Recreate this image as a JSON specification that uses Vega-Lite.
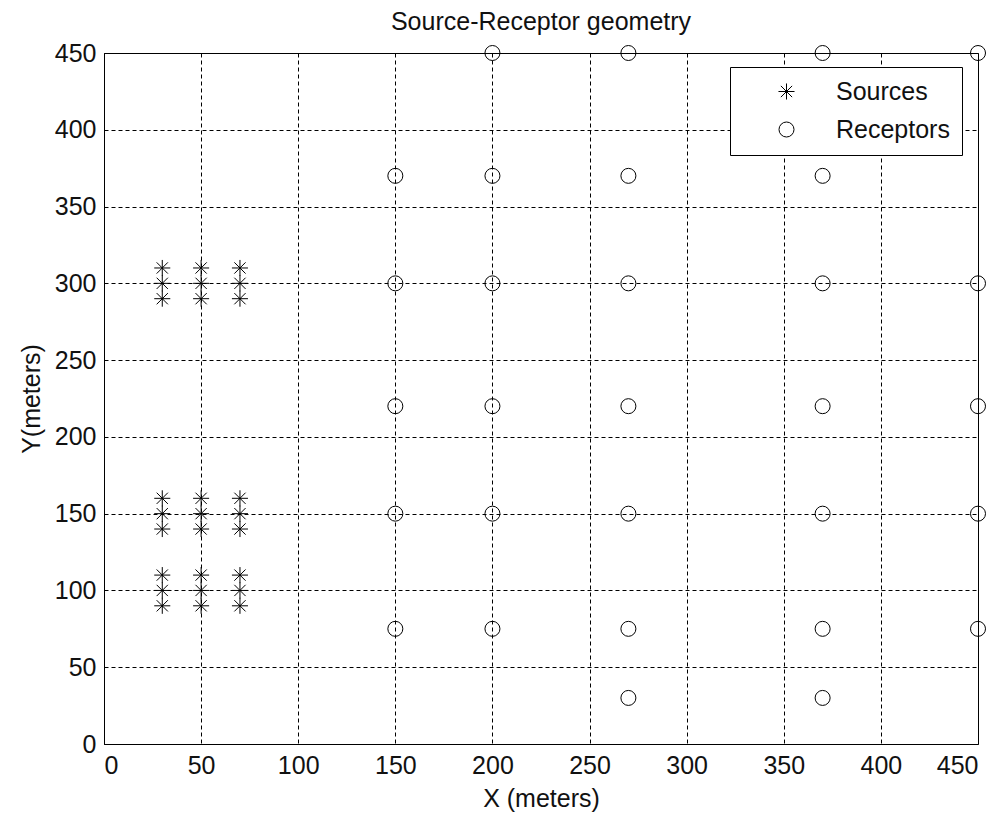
{
  "$schema": "https://vega.github.io/schema/vega-lite/v6.json",
  "width": 874,
  "height": 691,
  "autosize": {"type": "none"},
  "padding": {"left": 104, "top": 53, "right": 23, "bottom": 72},
  "background": "white",
  "title": {"text": "Source-Receptor geometry", "font": "Liberation Sans", "fontSize": 25, "fontWeight": "normal", "color": "#111", "anchor": "middle", "offset": 6},
  "config": {
    "view": {"stroke": "black", "strokeWidth": 1},
    "axis": {
      "domainColor": "black", "domainWidth": 1,
      "gridColor": "black", "gridOpacity": 1, "gridWidth": 1, "gridDash": [4, 3],
      "ticks": false,
      "labelFont": "Liberation Sans", "labelFontSize": 25, "labelColor": "#111",
      "titleFont": "Liberation Sans", "titleFontSize": 25, "titleFontWeight": "normal", "titleColor": "#111"
    }
  },
  "data": {"values": [
    {"x": 30, "y": 90, "type": "Sources"}, {"x": 30, "y": 100, "type": "Sources"}, {"x": 30, "y": 110, "type": "Sources"},
    {"x": 50, "y": 90, "type": "Sources"}, {"x": 50, "y": 100, "type": "Sources"}, {"x": 50, "y": 110, "type": "Sources"},
    {"x": 70, "y": 90, "type": "Sources"}, {"x": 70, "y": 100, "type": "Sources"}, {"x": 70, "y": 110, "type": "Sources"},
    {"x": 30, "y": 140, "type": "Sources"}, {"x": 30, "y": 150, "type": "Sources"}, {"x": 30, "y": 160, "type": "Sources"},
    {"x": 50, "y": 140, "type": "Sources"}, {"x": 50, "y": 150, "type": "Sources"}, {"x": 50, "y": 160, "type": "Sources"},
    {"x": 70, "y": 140, "type": "Sources"}, {"x": 70, "y": 150, "type": "Sources"}, {"x": 70, "y": 160, "type": "Sources"},
    {"x": 30, "y": 290, "type": "Sources"}, {"x": 30, "y": 300, "type": "Sources"}, {"x": 30, "y": 310, "type": "Sources"},
    {"x": 50, "y": 290, "type": "Sources"}, {"x": 50, "y": 300, "type": "Sources"}, {"x": 50, "y": 310, "type": "Sources"},
    {"x": 70, "y": 290, "type": "Sources"}, {"x": 70, "y": 300, "type": "Sources"}, {"x": 70, "y": 310, "type": "Sources"},
    {"x": 150, "y": 75, "type": "Receptors"}, {"x": 150, "y": 150, "type": "Receptors"}, {"x": 150, "y": 220, "type": "Receptors"}, {"x": 150, "y": 300, "type": "Receptors"}, {"x": 150, "y": 370, "type": "Receptors"},
    {"x": 200, "y": 75, "type": "Receptors"}, {"x": 200, "y": 150, "type": "Receptors"}, {"x": 200, "y": 220, "type": "Receptors"}, {"x": 200, "y": 300, "type": "Receptors"}, {"x": 200, "y": 370, "type": "Receptors"}, {"x": 200, "y": 450, "type": "Receptors"},
    {"x": 270, "y": 30, "type": "Receptors"}, {"x": 270, "y": 75, "type": "Receptors"}, {"x": 270, "y": 150, "type": "Receptors"}, {"x": 270, "y": 220, "type": "Receptors"}, {"x": 270, "y": 300, "type": "Receptors"}, {"x": 270, "y": 370, "type": "Receptors"}, {"x": 270, "y": 450, "type": "Receptors"},
    {"x": 370, "y": 30, "type": "Receptors"}, {"x": 370, "y": 75, "type": "Receptors"}, {"x": 370, "y": 150, "type": "Receptors"}, {"x": 370, "y": 220, "type": "Receptors"}, {"x": 370, "y": 300, "type": "Receptors"}, {"x": 370, "y": 370, "type": "Receptors"}, {"x": 370, "y": 450, "type": "Receptors"},
    {"x": 450, "y": 75, "type": "Receptors"}, {"x": 450, "y": 150, "type": "Receptors"}, {"x": 450, "y": 220, "type": "Receptors"}, {"x": 450, "y": 300, "type": "Receptors"}, {"x": 450, "y": 450, "type": "Receptors"}
  ]},
  "mark": {"type": "point", "filled": false, "color": "black", "strokeWidth": 1, "opacity": 1, "size": 225, "clip": false},
  "encoding": {
    "x": {"field": "x", "type": "quantitative", "scale": {"domain": [0, 450], "nice": false},
      "axis": {"title": "X (meters)", "values": [0, 50, 100, 150, 200, 250, 300, 350, 400, 450], "labelPadding": 9, "titlePadding": 8}},
    "y": {"field": "y", "type": "quantitative", "scale": {"domain": [0, 450], "nice": false},
      "axis": {"title": "Y(meters)", "values": [0, 50, 100, 150, 200, 250, 300, 350, 400, 450], "labelPadding": 8, "titlePadding": 10}},
    "shape": {"field": "type", "type": "nominal",
      "scale": {"domain": ["Sources", "Receptors"], "range": ["M-1.07,0L1.07,0M0,-1.07L0,1.07M-0.75,-0.75L0.75,0.75M-0.75,0.75L0.75,-0.75", "circle"]},
      "legend": {"title": null, "orient": "none", "legendX": 626, "legendY": 14,
        "padding": 12, "strokeColor": "black", "fillColor": "white",
        "symbolOffset": 32, "labelOffset": 37, "rowPadding": 12,
        "symbolSize": 225, "symbolStrokeColor": "black", "symbolStrokeWidth": 1, "symbolFillColor": "transparent",
        "labelFont": "Liberation Sans", "labelFontSize": 25, "labelColor": "#111"}}
  }
}
